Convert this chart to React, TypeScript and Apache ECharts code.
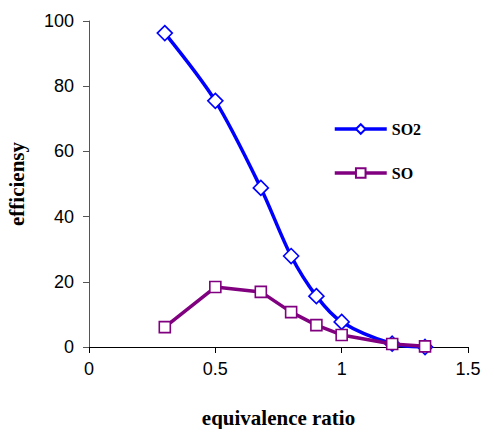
import React, { useEffect, useRef } from "react";
import * as echarts from "echarts";

const ratio = [0.3, 0.5, 0.68, 0.8, 0.9, 1.0, 1.2, 1.33];
const so2Values = [96.3, 75.5, 48.8, 27.9, 15.6, 7.7, 1.0, 0.0];
const soValues = [6.1, 18.4, 16.9, 10.7, 6.7, 3.7, 0.9, 0.2];
const xTicks = [0, 0.5, 1, 1.5];
const yTicks = [0, 20, 40, 60, 80, 100];

export default function App() {
  const ref = useRef<HTMLDivElement>(null);
  useEffect(() => {
    const chart = echarts.init(ref.current!, null, { renderer: "svg" });
    const tickFont = { color: "#000", fontFamily: "Liberation Sans, Arial", fontSize: 18 };
    const serif = "Liberation Serif, Times New Roman";
    chart.setOption({
      animation: false,
      backgroundColor: "#fff",
      grid: { left: 89, right: 16, top: 21, bottom: 82, containLabel: false, outerBoundsMode: "none" },
      legend: {
        orient: "vertical",
        left: 333,
        top: 121,
        padding: 0,
        itemWidth: 52,
        itemHeight: 12,
        itemGap: 28,
        lineStyle: { width: 3.5 },
        textStyle: { color: "#000", fontFamily: serif, fontWeight: "bold", fontSize: 16, padding: [0, 0, 0, 0] },
        data: ["SO2", "SO"],
      },
      xAxis: {
        type: "value",
        min: 0,
        max: 1.5,
        interval: 0.5,
        name: "equivalence ratio",
        nameLocation: "middle",
        nameGap: 60,
        nameTextStyle: { color: "#000", fontFamily: serif, fontWeight: "bold", fontSize: 21 },
        axisLine: { lineStyle: { color: "#000", width: 1 } },
        axisTick: { length: 6, lineStyle: { color: "#000" } },
        axisLabel: { ...tickFont, margin: 13, formatter: (v: number) => (xTicks.includes(v) ? String(v) : "") },
        splitLine: { show: false },
      },
      yAxis: {
        type: "value",
        min: 0,
        max: 100,
        interval: 20,
        name: "efficiensy",
        nameLocation: "middle",
        nameGap: 62,
        nameTextStyle: { color: "#000", fontFamily: serif, fontWeight: "bold", fontSize: 21 },
        axisLine: { show: true, lineStyle: { color: "#555", width: 1 } },
        axisTick: { show: true, length: 6, lineStyle: { color: "#555" } },
        axisLabel: { ...tickFont, margin: 15, formatter: (v: number) => (yTicks.includes(v) ? String(v) : "") },
        splitLine: { show: false },
      },
      series: [
        {
          name: "SO2",
          type: "line",
          smooth: 0.3,
          data: ratio.map((x, i) => [x, so2Values[i]]),
          symbol: "diamond",
          symbolSize: 15,
          lineStyle: { color: "#0000ff", width: 3.5 },
          itemStyle: { color: "#fff", borderColor: "#0000ff", borderWidth: 1.6 },
          z: 3,
        },
        {
          name: "SO",
          type: "line",
          data: ratio.map((x, i) => [x, soValues[i]]),
          symbol: "rect",
          symbolSize: 11,
          lineStyle: { color: "#800080", width: 3.5 },
          itemStyle: { color: "#fff", borderColor: "#800080", borderWidth: 1.6 },
          z: 4,
        },
      ],
    });
    return () => chart.dispose();
  }, []);
  return (
    <div
      ref={ref}
      style={{ position: "fixed", left: 0, top: 0, width: 484, height: 429, background: "#fff" }}
    />
  );
}
